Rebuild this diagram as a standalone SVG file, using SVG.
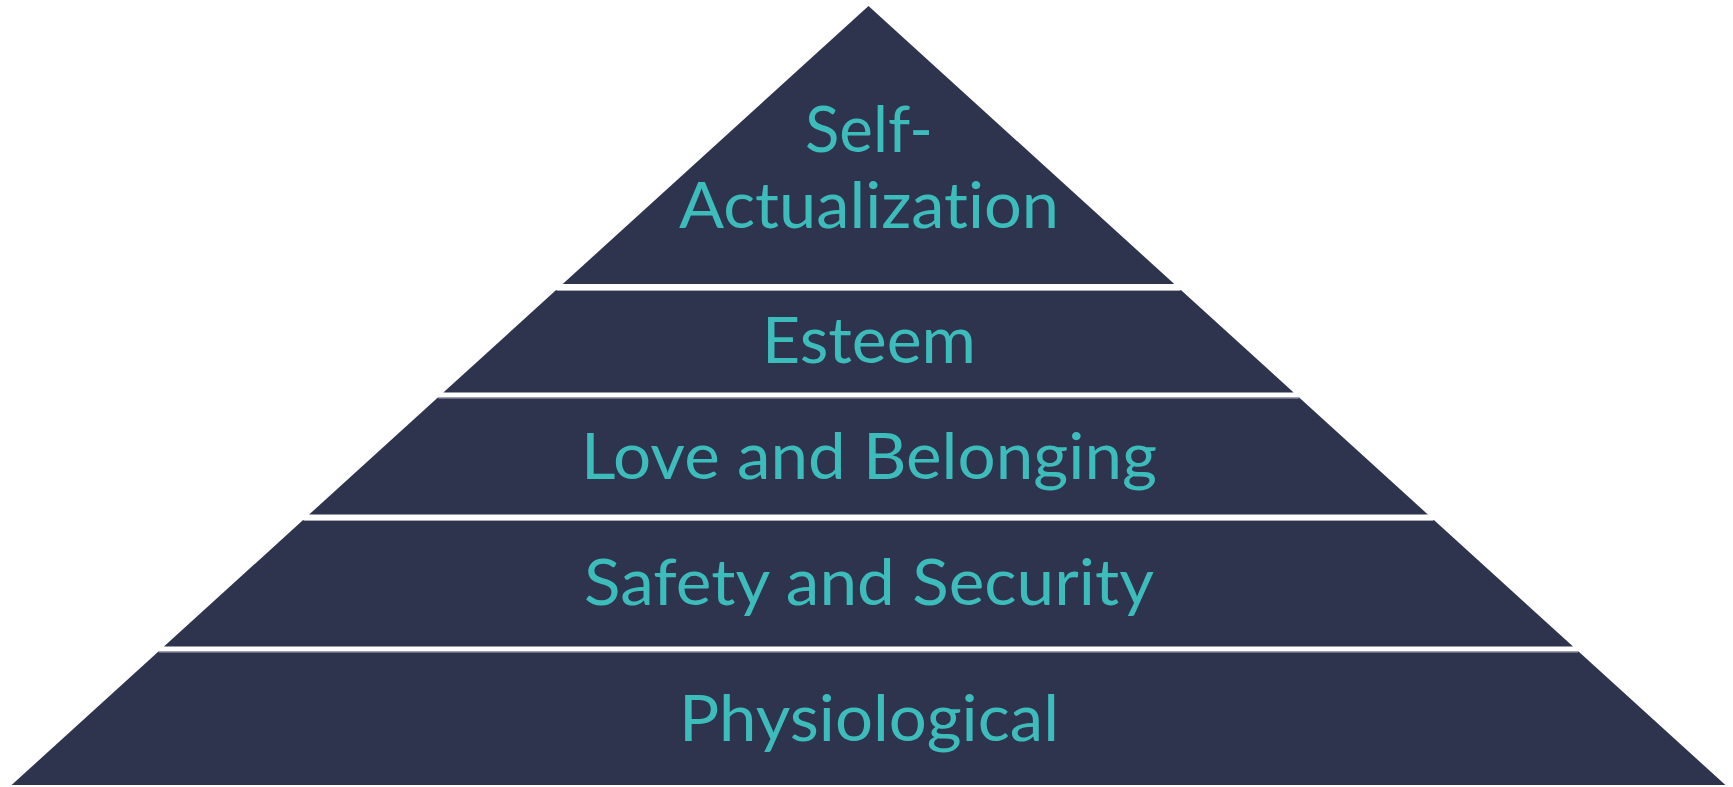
<svg xmlns="http://www.w3.org/2000/svg" width="1733" height="787" viewBox="0 0 1733 787">
<style>
.lvl{fill:#2f344e}
.edge{stroke:#a9abb6;stroke-width:1}
.lbl{font-family:Lato,"Open Sans","Liberation Sans",sans-serif;font-size:64px;fill:#3dbcbc;text-anchor:middle;font-variant-ligatures:none;font-feature-settings:"liga" 0,"clig" 0,"dlig" 0}
</style>
<rect width="1733" height="787" fill="#ffffff"/>
<g id="self-actualization">
<polygon class="lvl" points="868.5,6 1174.3,284 562.7,284"/>
<text class="lbl" x="869" y="152" textLength="128" lengthAdjust="spacingAndGlyphs">Self-</text>
<text class="lbl" x="869" y="228" textLength="380" lengthAdjust="spacingAndGlyphs">Actualization</text>
</g>
<g id="esteem">
<polygon class="lvl" points="556.1,290 1180.9,290 1293.65,392.5 443.35,392.5"/>
<line class="edge" x1="556.6" y1="290.5" x2="1180.4" y2="290.5"/>
<text class="lbl" x="869" y="363" textLength="214" lengthAdjust="spacingAndGlyphs">Esteem</text>
</g>
<g id="love-and-belonging">
<polygon class="lvl" points="437.85,397.5 1299.15,397.5 1427.85,514.5 309.15,514.5"/>
<line class="edge" x1="438.3" y1="398" x2="1298.7" y2="398"/>
<text class="lbl" x="869" y="479" textLength="576" lengthAdjust="spacingAndGlyphs">Love and Belonging</text>
</g>
<g id="safety-and-security">
<polygon class="lvl" points="303.1,520 1433.9,520 1573.05,646.5 163.95,646.5"/>
<line class="edge" x1="303.6" y1="520.5" x2="1433.4" y2="520.5"/>
<text class="lbl" x="869" y="605" textLength="570" lengthAdjust="spacingAndGlyphs">Safety and Security</text>
</g>
<g id="physiological">
<polygon class="lvl" points="158.45,651.5 1578.55,651.5 1725.4,785 11.6,785"/>
<line class="edge" x1="158.9" y1="652" x2="1578.1" y2="652"/>
<text class="lbl" x="869" y="741" textLength="380" lengthAdjust="spacingAndGlyphs">Physiological</text>
</g>
<g id="connectors"/>
</svg>
